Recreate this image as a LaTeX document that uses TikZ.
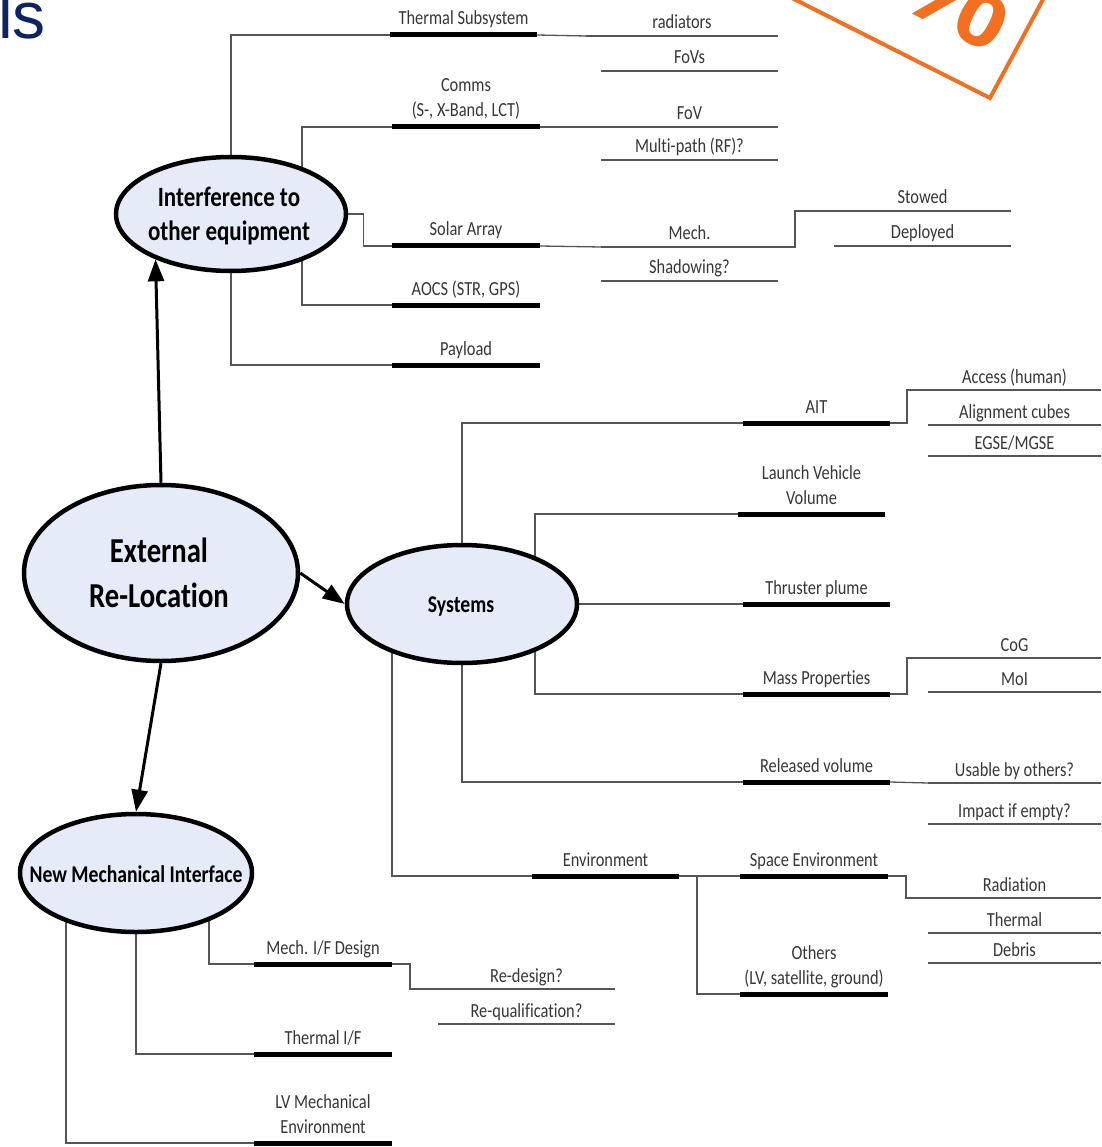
\documentclass[tikz,border=0pt]{standalone}
\usepackage{fontspec}
\setmainfont{Carlito}[FakeStretch=0.82, Ligatures=NoCommon]
\newfontfamily\headfont{Liberation Sans}
\usetikzlibrary{shapes.geometric,arrows.meta}
\pgfdeclarelayer{bg}
\pgfdeclarelayer{paper}
\pgfsetlayers{paper,bg,main}
\definecolor{bubblefill}{RGB}{229,235,247}
\definecolor{stamp}{RGB}{243,112,33}
\definecolor{navy}{RGB}{12,36,97}
\definecolor{linegray}{RGB}{85,85,85}
\definecolor{labelgray}{RGB}{55,55,55}

% a topic: thick bar with its label above (#5 = baseline of the last text line)
\newcommand{\topic}[6]{%
  \coordinate (#1-l) at (#2,#4);
  \coordinate (#1-r) at (#3,#4);
  \draw[bar] (#1-l) -- (#1-r);
  \node[lbl] (#1) at ({(#2+#3)/2},#5) {#6};}
% a leaf: thin underline with its label above
\newcommand{\leaf}[5]{%
  \coordinate (#1-l) at (#2,#4);
  \coordinate (#1-r) at (#3,#4);
  \draw[item] (#1-l) -- (#1-r);
  \node[lbl] (#1) at ({(#2+#3)/2},#4-7) {#5};}

\begin{document}
\begin{tikzpicture}[x=1pt,y=-1pt,
  bubble/.style={ellipse, draw=black, line width=4.5pt, fill=bubblefill, inner sep=0pt},
  bubtext/.style={align=center, anchor=base, text=black, inner sep=0pt},
  lbl/.style={anchor=base, text=labelgray, inner sep=0pt, align=center,
              font=\fontsize{20}{25}\selectfont},
  bar/.style={line width=5pt, black},
  conn/.style={line width=1.3pt, linegray},
  item/.style={line width=1.3pt, linegray},
  arr/.style={line width=3pt, -{Triangle[length=22pt,width=16pt]}},
]
\begin{pgfonlayer}{paper}
  \fill[white] (0,0) rectangle (1101,1147);
\end{pgfonlayer}
\useasboundingbox (0,0) rectangle (1101,1147);

% header remnant and stamp
\node[anchor=base west, inner sep=0pt, text=navy,
      font=\headfont\fontsize{66}{66}\selectfont] (hdr) at (-2,39) {ls};
\node[anchor=base west, inner sep=0pt, rotate=-27, text=stamp,
      font=\headfont\bfseries\fontsize{124}{124}\selectfont] (pct) at (893,4) {\%};
\draw[stamp, line width=4pt, line join=miter] (780,-8) -- (990,98) -- (1047,-8);

% main bubbles
\node[bubble, minimum width=274pt, minimum height=176pt] (ext) at (161,573) {};
\node[bubtext, font=\bfseries\fontsize{35}{45}\selectfont] (ext-t) at (159,607) {External\\Re-Location};

\node[bubble, minimum width=230pt, minimum height=114pt] (intf) at (231,214) {};
\node[bubtext, font=\bfseries\fontsize{28}{34}\selectfont] (intf-t) at (229,241) {Interference to\\other equipment};

\node[bubble, minimum width=230pt, minimum height=118pt] (sys) at (462,604) {};
\node[bubtext, font=\bfseries\fontsize{24}{28}\selectfont] (sys-t) at (461,612) {Systems};

\node[bubble, minimum width=232pt, minimum height=118pt] (nmi) at (136,873) {};
\node[bubtext, font=\bfseries\fontsize{24}{28}\selectfont] (nmi-t) at (136,882) {New Mechanical Interface};

% interference branch
\topic{ts}{390}{537}{35}{25}{Thermal Subsystem}
\topic{cm}{392}{540}{127}{117}{Comms\\(S-, X-Band, LCT)}
\topic{sa}{392}{540}{246}{236}{Solar Array}
\topic{ao}{392}{540}{305}{295}{AOCS (STR, GPS)}
\topic{pl}{392}{540}{365}{355}{Payload}
\leaf{rad}{586}{778}{36}{radiators}
\leaf{fovs}{601}{778}{71}{FoVs}
\leaf{fov}{601}{778}{127}{FoV}
\leaf{mpath}{601}{778}{160}{Multi-path (RF)?}
\leaf{mech}{601}{778}{247}{Mech.}
\leaf{shad}{601}{778}{281}{Shadowing?}
\leaf{stow}{834}{1011}{211}{Stowed}
\leaf{depl}{834}{1011}{246}{Deployed}

% systems branch
\topic{ait}{743}{890}{423}{413}{AIT}
\topic{lv}{738}{885}{514}{504}{Launch Vehicle\\Volume}
\topic{tp}{743}{890}{604}{594}{Thruster plume}
\topic{mp}{743}{890}{694}{684}{Mass Properties}
\topic{rv}{743}{890}{782}{772}{Released volume}
\topic{env}{532}{679}{876}{866}{Environment}
\topic{se}{740}{888}{876}{866}{Space Environment}
\topic{oth}{740}{888}{994}{984}{Others\\(LV, satellite, ground)}
\leaf{acc}{928}{1101}{390}{Access (human)}
\leaf{aln}{928}{1101}{425}{Alignment cubes}
\leaf{egse}{928}{1101}{456}{EGSE/MGSE}
\leaf{cog}{928}{1101}{658}{CoG}
\leaf{moi}{928}{1101}{692}{MoI}
\leaf{use}{928}{1101}{783}{Usable by others?}
\leaf{imp}{928}{1101}{824}{Impact if empty?}
\leaf{radn}{928}{1101}{898}{Radiation}
\leaf{therm}{928}{1101}{933}{Thermal}
\leaf{deb}{928}{1101}{963}{Debris}

% mechanical interface branch
\topic{mif}{254}{392}{964}{954}{Mech. I/F Design}
\topic{tif}{254}{392}{1054}{1044}{Thermal I/F}
\topic{lvm}{254}{392}{1143}{1133}{LV Mechanical\\Environment}
\leaf{rd}{438}{615}{989}{Re-design?}
\leaf{rq}{438}{615}{1024}{Re-qualification?}

% connectors, kept behind the bubbles
\coordinate (intf-r) at (302,214);
\coordinate (sys-r) at (535,604);
\coordinate (sys-l) at (392,604);
\coordinate (env-j) at (697,876);
\coordinate (nmi-r) at (209,873);
\coordinate (nmi-l) at (66,873);
\begin{pgfonlayer}{bg}
  \draw[conn] (intf) |- (ts-l);
  \draw[conn] (intf) |- (pl-l);
  \draw[conn] (cm-l) -| (intf-r) |- (ao-l);
  \draw[conn] (intf.east) -- ++(15,0) |- (sa-l);
  \draw[conn] (ts-r) -- (rad-l);
  \draw[conn] (cm-r) -- (fov-l);
  \draw[conn] (sa-r) -- (mech-l);
  \draw[conn] (mech-r) -- ++(17,0) |- (stow-l);

  \draw[conn] (sys) |- (ait-l);
  \draw[conn] (sys) |- (rv-l);
  \draw[conn] (sys) -- (tp-l);
  \draw[conn] (lv-l) -| (sys-r) |- (mp-l);
  \draw[conn] (sys-l) |- (env-l);
  \draw[conn] (ait-r) -- ++(17,0) |- (acc-l);
  \draw[conn] (mp-r) -- ++(17,0) |- (cog-l);
  \draw[conn] (rv-r) -- (use-l);
  \draw[conn] (se-r) -- ++(18,0) |- (radn-l);
  \draw[conn] (env-r) -- (se-l);
  \draw[conn] (env-j) |- (oth-l);

  \draw[conn] (nmi-r) |- (mif-l);
  \draw[conn] (nmi) |- (tif-l);
  \draw[conn] (nmi-l) |- (lvm-l);
  \draw[conn] (mif-r) -- ++(18,0) |- (rd-l);
\end{pgfonlayer}

% arrows from the central bubble
\draw[arr] (ext.north) -- (intf.211);
\draw[arr] (ext.east) -- (sys.west);
\draw[arr] (ext.south) -- (nmi.north);
\end{tikzpicture}
\end{document}
